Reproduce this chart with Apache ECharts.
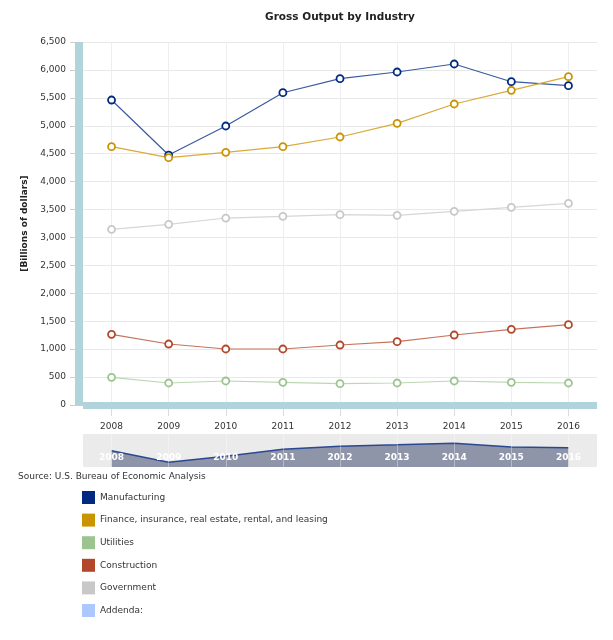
<!DOCTYPE html>
<html>
<head>
<meta charset="utf-8">
<script src="https://cdn.jsdelivr.net/npm/echarts@6/dist/echarts.min.js"></script>
<style>
html,body{margin:0;padding:0;background:#fff;}
#chart{width:613px;height:640px;}
</style>
</head>
<body>
<div id="chart"></div>
<script>
const years = ['2008', '2009', '2010', '2011', '2012', '2013', '2014', '2015', '2016'];
const manufacturing = [5461, 4476, 4996, 5592, 5843, 5963, 6106, 5789, 5718];
const finance = [4625, 4428, 4525, 4625, 4799, 5044, 5390, 5635, 5879];
const utilities = [496, 394, 430, 406, 381, 394, 430, 406, 394];
const construction = [1266, 1092, 1003, 1003, 1074, 1134, 1253, 1355, 1438];
const government = [3146, 3236, 3348, 3379, 3408, 3397, 3468, 3540, 3612];
const addenda = [];
const seriesNames = ['Manufacturing', 'Finance, insurance, real estate, rental, and leasing', 'Utilities', 'Construction', 'Government', 'Addenda:'];
const yMin = 0, yMax = 6500, yInterval = 500;
const navMin = 4070, navMax = 6890;

const colors = ['#002a82', '#c99400', '#9cc48f', '#b3472b', '#c8c8c8', '#adc8ff'];
const lineColors = ['#3c5a9e', '#d8aa38', '#bcd7b2', '#c6735c', '#d6d6d6', '#adc8ff'];
const FONT = 'DejaVu Sans';

const chart = echarts.init(document.getElementById('chart'), null, {renderer: 'canvas'});

const dataSets = [manufacturing, finance, utilities, construction, government, addenda];
const mainSeries = dataSets.map((d, i) => ({
  name: seriesNames[i],
  type: 'line',
  xAxisIndex: 0,
  yAxisIndex: 0,
  data: d,
  symbol: 'circle',
  symbolSize: 7,
  showSymbol: true,
  animation: false,
  lineStyle: {color: lineColors[i], width: 1.2},
  itemStyle: {color: '#ffffff', borderColor: colors[i], borderWidth: 1.8},
  emphasis: {disabled: true},
  z: 3
}));

const option = {
  backgroundColor: '#ffffff',
  animation: false,
  textStyle: {fontFamily: FONT},
  title: {
    text: 'Gross Output by Industry',
    left: 340,
    textAlign: 'center',
    top: 12,
    padding: 0,
    textStyle: {fontFamily: FONT, fontSize: 10.5, fontWeight: 'bold', color: '#222'}
  },
  legend: {
    orient: 'vertical',
    left: 82,
    top: 491,
    padding: 0,
    icon: 'rect',
    itemWidth: 13,
    itemHeight: 13,
    itemGap: 9.6,
    selectedMode: false,
    textStyle: {fontFamily: FONT, fontSize: 9, color: '#333'},
    data: seriesNames.map((n, i) => ({name: n, itemStyle: {color: colors[i], borderWidth: 0}}))
  },
  graphic: [{
    type: 'text',
    left: 18,
    top: 472,
    style: {text: 'Source: U.S. Bureau of Economic Analysis', font: '9px "DejaVu Sans"', fill: '#333'}
  }],
  grid: [
    {left: 83, right: 16, top: 42, height: 363, outerBoundsMode: 'none', containLabel: false},
    {left: 83, right: 16, top: 434, height: 33, show: true, backgroundColor: '#ebebeb', borderWidth: 0, outerBoundsMode: 'none', containLabel: false}
  ],
  xAxis: [
    {
      type: 'category', gridIndex: 0, data: years, boundaryGap: true,
      axisLine: {show: false},
      axisTick: {show: true, alignWithLabel: true, length: 11, lineStyle: {color: '#d6dde3'}},
      axisLabel: {fontFamily: FONT, fontSize: 9, color: '#333', margin: 17},
      splitLine: {show: true, alignWithLabel: true, lineStyle: {color: '#eeeeee', width: 1}}
    },
    {
      type: 'category', gridIndex: 0, data: years, boundaryGap: true, position: 'bottom',
      offset: 3.5, z: 5,
      axisLine: {show: true, lineStyle: {color: '#b0d3dc', width: 7, cap: 'butt'}},
      axisTick: {show: false}, axisLabel: {show: false}, splitLine: {show: false}
    },
    {
      type: 'category', gridIndex: 1, data: years, boundaryGap: true, z: 10,
      axisLine: {show: false}, axisTick: {show: false},
      axisLabel: {inside: true, fontFamily: FONT, fontSize: 9, fontWeight: 'bold', color: '#ffffff', margin: 5},
      splitLine: {show: false}
    }
  ],
  yAxis: [
    {
      type: 'value', gridIndex: 0, min: yMin, max: yMax, interval: yInterval,
      name: '[Billions of dollars]', nameLocation: 'middle', nameGap: 50, nameRotate: 90,
      nameTextStyle: {fontFamily: FONT, fontSize: 9, fontWeight: 'bold', color: '#222'},
      axisLine: {show: false},
      axisTick: {show: true, length: 13, lineStyle: {color: '#cccccc'}},
      axisLabel: {fontFamily: FONT, fontSize: 9, color: '#333', margin: 17,
        formatter: v => v.toLocaleString('en-US')},
      splitLine: {show: true, lineStyle: {color: '#e8e8e8', width: 1}}
    },
    {
      type: 'value', gridIndex: 0, min: yMin, max: yMax, interval: yInterval, position: 'left',
      offset: 4, z: 5,
      axisLine: {show: true, lineStyle: {color: '#b0d3dc', width: 8, cap: 'butt'}},
      axisTick: {show: false}, axisLabel: {show: false}, splitLine: {show: false}
    },
    {
      type: 'value', gridIndex: 1, min: navMin, max: navMax, show: false
    }
  ],
  series: mainSeries.concat([{
    name: 'navigator',
    type: 'line',
    xAxisIndex: 2,
    yAxisIndex: 2,
    data: manufacturing,
    symbol: 'none',
    animation: false,
    lineStyle: {color: '#2b4892', width: 1.5},
    areaStyle: {color: '#8f95a8', opacity: 1, origin: 'start'},
    emphasis: {disabled: true},
    markLine: {
      silent: true, symbol: 'none', animation: false,
      label: {show: false},
      lineStyle: {color: 'rgba(255,255,255,0.35)', width: 1, type: 'solid'},
      emphasis: {disabled: true},
      data: years.map(y => ({xAxis: y}))
    }
  }])
};
chart.setOption(option);
</script>
</body>
</html>
